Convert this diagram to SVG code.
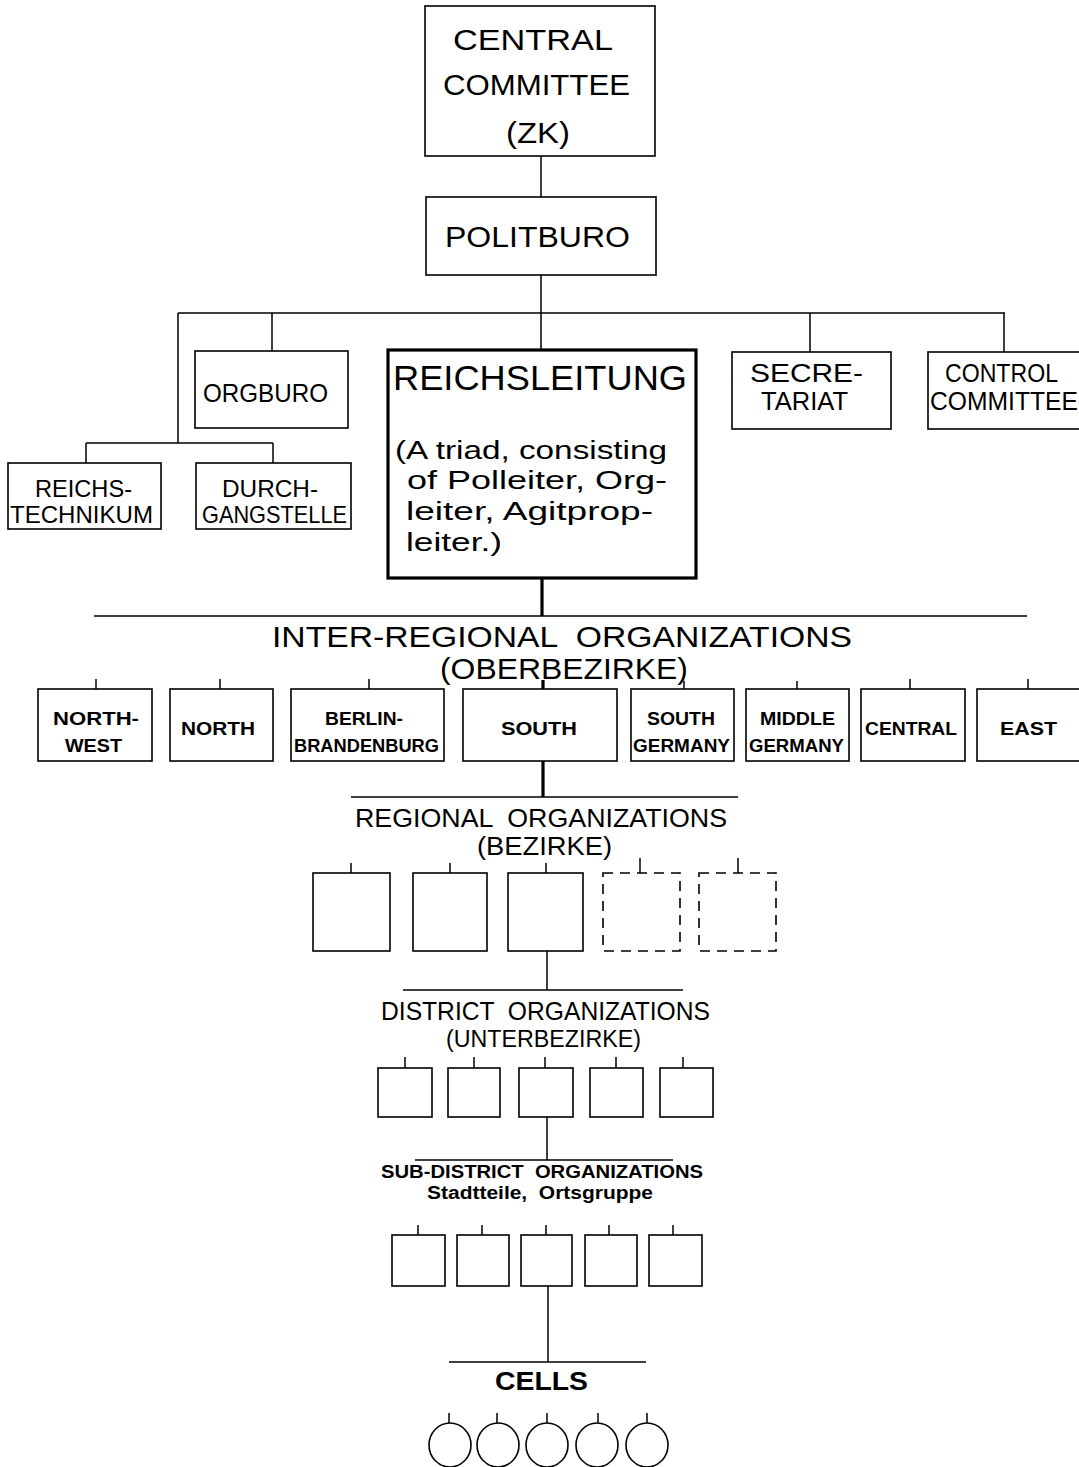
<svg xmlns="http://www.w3.org/2000/svg" width="1079" height="1467" viewBox="0 0 1079 1467">
<style>
  .bg{fill:#fff}
  .box{fill:#fff;stroke:#000;stroke-width:1.6}
  .thick{fill:#fff;stroke:#000;stroke-width:3.2}
  .dash{fill:#fff;stroke:#000;stroke-width:1.6;stroke-dasharray:10 7}
  .ln{fill:none;stroke:#000;stroke-width:1.5}
  .tln{fill:none;stroke:#000;stroke-width:3.2}
  text{font-family:"Liberation Sans","DejaVu Sans",Arial,sans-serif;fill:#000}
  .t29{font-size:29px}
  .t25{font-size:25px}
  .t24{font-size:24px}
  .t23{font-size:23px}
  .t35{font-size:35px}
  .t30{font-size:30px}
  .t26{font-size:26px}
  .b19{font-size:19px;font-weight:bold}
  .b18{font-size:18px;font-weight:bold}
  .b26{font-size:26px;font-weight:bold}
</style>
<rect class="bg" x="0" y="0" width="1079" height="1467"/>

<g id="connectors">
  <line class="ln" x1="541" y1="156" x2="541" y2="197"/>
  <line class="ln" x1="541" y1="275" x2="541" y2="349"/>
  <line class="ln" x1="178" y1="313" x2="1005" y2="313"/>
  <line class="ln" x1="272" y1="313" x2="272" y2="351"/>
  <line class="ln" x1="810" y1="313" x2="810" y2="352"/>
  <line class="ln" x1="1004" y1="313" x2="1004" y2="352"/>
  <line class="ln" x1="178" y1="313" x2="178" y2="443"/>
  <line class="ln" x1="86" y1="443" x2="273" y2="443"/>
  <line class="ln" x1="86" y1="443" x2="86" y2="463"/>
  <line class="ln" x1="273" y1="443" x2="273" y2="463"/>
  <line class="tln" x1="542" y1="578" x2="542" y2="616"/>
  <line class="ln" x1="94" y1="616" x2="1027" y2="616"/>
  <line class="ln" x1="96" y1="679" x2="96" y2="689"/>
  <line class="ln" x1="220" y1="679" x2="220" y2="689"/>
  <line class="ln" x1="369" y1="679" x2="369" y2="689"/>
  <line class="tln" x1="543" y1="680" x2="543" y2="689"/>
  <line class="ln" x1="684" y1="681" x2="684" y2="689"/>
  <line class="ln" x1="797" y1="681" x2="797" y2="689"/>
  <line class="ln" x1="910" y1="679" x2="910" y2="689"/>
  <line class="ln" x1="1028" y1="679" x2="1028" y2="689"/>
  <line class="tln" x1="543" y1="761" x2="543" y2="797"/>
  <line class="ln" x1="351" y1="797" x2="738" y2="797"/>
  <line class="ln" x1="351" y1="863" x2="351" y2="873"/>
  <line class="ln" x1="450" y1="863" x2="450" y2="873"/>
  <line class="ln" x1="546" y1="863" x2="546" y2="873"/>
  <line class="ln" x1="640" y1="858" x2="640" y2="873"/>
  <line class="ln" x1="738" y1="858" x2="738" y2="873"/>
  <line class="ln" x1="547" y1="951" x2="547" y2="990"/>
  <line class="ln" x1="403" y1="990" x2="683" y2="990"/>
  <line class="ln" x1="405" y1="1057" x2="405" y2="1068"/>
  <line class="ln" x1="474" y1="1057" x2="474" y2="1068"/>
  <line class="ln" x1="545" y1="1057" x2="545" y2="1068"/>
  <line class="ln" x1="616" y1="1057" x2="616" y2="1068"/>
  <line class="ln" x1="683" y1="1057" x2="683" y2="1068"/>
  <line class="ln" x1="547" y1="1117" x2="547" y2="1160"/>
  <line class="ln" x1="415" y1="1160" x2="673" y2="1160"/>
  <line class="ln" x1="418" y1="1225" x2="418" y2="1235"/>
  <line class="ln" x1="482" y1="1225" x2="482" y2="1235"/>
  <line class="ln" x1="546" y1="1225" x2="546" y2="1235"/>
  <line class="ln" x1="609" y1="1225" x2="609" y2="1235"/>
  <line class="ln" x1="673" y1="1225" x2="673" y2="1235"/>
  <line class="ln" x1="548" y1="1286" x2="548" y2="1362"/>
  <line class="ln" x1="449" y1="1362" x2="646" y2="1362"/>
  <line class="ln" x1="449" y1="1413" x2="449" y2="1423"/>
  <line class="ln" x1="497" y1="1413" x2="497" y2="1423"/>
  <line class="ln" x1="547" y1="1413" x2="547" y2="1423"/>
  <line class="ln" x1="598" y1="1413" x2="598" y2="1423"/>
  <line class="ln" x1="647" y1="1413" x2="647" y2="1423"/>
</g>

<g id="central-committee">
  <rect class="box" x="425" y="6" width="230" height="150"/>
  <text class="t29" x="453" y="50" textLength="160" lengthAdjust="spacingAndGlyphs">CENTRAL</text>
  <text class="t29" x="443" y="95" textLength="187" lengthAdjust="spacingAndGlyphs">COMMITTEE</text>
  <text class="t29" x="506" y="143" textLength="64" lengthAdjust="spacingAndGlyphs">(ZK)</text>
</g>
<g id="politburo">
  <rect class="box" x="426" y="197" width="230" height="78"/>
  <text class="t29" x="445" y="247" textLength="185" lengthAdjust="spacingAndGlyphs">POLITBURO</text>
</g>
<g id="orgburo">
  <rect class="box" x="195" y="351" width="153" height="77"/>
  <text class="t25" x="203" y="402" textLength="125" lengthAdjust="spacingAndGlyphs">ORGBURO</text>
</g>
<g id="reichsleitung">
  <rect class="thick" x="388" y="350" width="308" height="228"/>
  <text class="t35" x="393" y="390" textLength="294" lengthAdjust="spacingAndGlyphs">REICHSLEITUNG</text>
  <text class="t25" x="395" y="459" textLength="272" lengthAdjust="spacingAndGlyphs">(A triad, consisting</text>
  <text class="t25" x="407" y="489" textLength="260" lengthAdjust="spacingAndGlyphs">of Polleiter, Org-</text>
  <text class="t25" x="406" y="520" textLength="247" lengthAdjust="spacingAndGlyphs">leiter, Agitprop-</text>
  <text class="t25" x="406" y="551" textLength="96" lengthAdjust="spacingAndGlyphs">leiter.)</text>
</g>
<g id="secretariat">
  <rect class="box" x="732" y="352" width="159" height="77"/>
  <text class="t25" x="750" y="382" textLength="113" lengthAdjust="spacingAndGlyphs">SECRE-</text>
  <text class="t25" x="761" y="410" textLength="87" lengthAdjust="spacingAndGlyphs">TARIAT</text>
</g>
<g id="control-committee">
  <rect class="box" x="928" y="352" width="160" height="77"/>
  <text class="t25" x="945" y="382" textLength="113" lengthAdjust="spacingAndGlyphs">CONTROL</text>
  <text class="t25" x="930" y="410" textLength="148" lengthAdjust="spacingAndGlyphs">COMMITTEE</text>
</g>
<g id="reichstechnikum">
  <rect class="box" x="8" y="463" width="153" height="66"/>
  <text class="t24" x="35" y="497" textLength="97" lengthAdjust="spacingAndGlyphs">REICHS-</text>
  <text class="t24" x="10" y="523" textLength="143" lengthAdjust="spacingAndGlyphs">TECHNIKUM</text>
</g>
<g id="durchgangstelle">
  <rect class="box" x="196" y="463" width="155" height="66"/>
  <text class="t24" x="222" y="497" textLength="96" lengthAdjust="spacingAndGlyphs">DURCH-</text>
  <text class="t24" x="202" y="523" textLength="145" lengthAdjust="spacingAndGlyphs">GANGSTELLE</text>
</g>

<g id="inter-regional-header">
  <text class="t30" x="272" y="647" textLength="580" lengthAdjust="spacingAndGlyphs" xml:space="preserve">INTER-REGIONAL  ORGANIZATIONS</text>
  <text class="t30" x="440" y="679" textLength="248" lengthAdjust="spacingAndGlyphs">(OBERBEZIRKE)</text>
</g>
<g id="northwest">
  <rect class="box" x="38" y="689" width="114" height="72"/>
  <text class="b19" x="53" y="725" textLength="86" lengthAdjust="spacingAndGlyphs">NORTH-</text>
  <text class="b19" x="65" y="752" textLength="57" lengthAdjust="spacingAndGlyphs">WEST</text>
</g>
<g id="north">
  <rect class="box" x="170" y="689" width="103" height="72"/>
  <text class="b19" x="181" y="735" textLength="74" lengthAdjust="spacingAndGlyphs">NORTH</text>
</g>
<g id="berlin-brandenburg">
  <rect class="box" x="291" y="689" width="153" height="72"/>
  <text class="b19" x="325" y="725" textLength="78" lengthAdjust="spacingAndGlyphs">BERLIN-</text>
  <text class="b19" x="294" y="752" textLength="145" lengthAdjust="spacingAndGlyphs">BRANDENBURG</text>
</g>
<g id="south">
  <rect class="box" x="463" y="689" width="154" height="72"/>
  <text class="b19" x="501" y="735" textLength="76" lengthAdjust="spacingAndGlyphs">SOUTH</text>
</g>
<g id="south-germany">
  <rect class="box" x="631" y="689" width="103" height="72"/>
  <text class="b19" x="647" y="725" textLength="68" lengthAdjust="spacingAndGlyphs">SOUTH</text>
  <text class="b19" x="633" y="752" textLength="97" lengthAdjust="spacingAndGlyphs">GERMANY</text>
</g>
<g id="middle-germany">
  <rect class="box" x="746" y="689" width="103" height="72"/>
  <text class="b19" x="760" y="725" textLength="75" lengthAdjust="spacingAndGlyphs">MIDDLE</text>
  <text class="b19" x="749" y="752" textLength="95" lengthAdjust="spacingAndGlyphs">GERMANY</text>
</g>
<g id="central">
  <rect class="box" x="861" y="689" width="104" height="72"/>
  <text class="b19" x="865" y="735" textLength="92" lengthAdjust="spacingAndGlyphs">CENTRAL</text>
</g>
<g id="east">
  <rect class="box" x="977" y="689" width="110" height="72"/>
  <text class="b19" x="1000" y="735" textLength="57" lengthAdjust="spacingAndGlyphs">EAST</text>
</g>

<g id="regional-header">
  <text class="t26" x="355" y="827" textLength="372" lengthAdjust="spacingAndGlyphs" xml:space="preserve">REGIONAL  ORGANIZATIONS</text>
  <text class="t26" x="477" y="855" textLength="135" lengthAdjust="spacingAndGlyphs">(BEZIRKE)</text>
</g>
<g id="bezirk-1"><rect class="box" x="313" y="873" width="77" height="78"/></g>
<g id="bezirk-2"><rect class="box" x="413" y="873" width="74" height="78"/></g>
<g id="bezirk-3"><rect class="box" x="508" y="873" width="75" height="78"/></g>
<g id="bezirk-4"><rect class="dash" x="603" y="873" width="77" height="78"/></g>
<g id="bezirk-5"><rect class="dash" x="699" y="873" width="77" height="78"/></g>

<g id="district-header">
  <text class="t25" x="381" y="1020" textLength="329" lengthAdjust="spacingAndGlyphs" xml:space="preserve">DISTRICT  ORGANIZATIONS</text>
  <text class="t23" x="446" y="1047" textLength="195" lengthAdjust="spacingAndGlyphs">(UNTERBEZIRKE)</text>
</g>
<g id="unterbezirk-1"><rect class="box" x="378" y="1068" width="54" height="49"/></g>
<g id="unterbezirk-2"><rect class="box" x="448" y="1068" width="52" height="49"/></g>
<g id="unterbezirk-3"><rect class="box" x="519" y="1068" width="54" height="49"/></g>
<g id="unterbezirk-4"><rect class="box" x="590" y="1068" width="53" height="49"/></g>
<g id="unterbezirk-5"><rect class="box" x="660" y="1068" width="53" height="49"/></g>

<g id="sub-district-header">
  <text class="b19" x="381" y="1178" textLength="322" lengthAdjust="spacingAndGlyphs" xml:space="preserve">SUB-DISTRICT  ORGANIZATIONS</text>
  <text class="b18" x="427" y="1199" textLength="226" lengthAdjust="spacingAndGlyphs" xml:space="preserve">Stadtteile,  Ortsgruppe</text>
</g>
<g id="sub-district-1"><rect class="box" x="392" y="1235" width="53" height="51"/></g>
<g id="sub-district-2"><rect class="box" x="457" y="1235" width="52" height="51"/></g>
<g id="sub-district-3"><rect class="box" x="521" y="1235" width="51" height="51"/></g>
<g id="sub-district-4"><rect class="box" x="585" y="1235" width="52" height="51"/></g>
<g id="sub-district-5"><rect class="box" x="649" y="1235" width="53" height="51"/></g>

<g id="cells-header">
  <text class="b26" x="495" y="1390" textLength="93" lengthAdjust="spacingAndGlyphs">CELLS</text>
</g>
<g id="cell-1"><ellipse class="box" cx="450" cy="1445" rx="21" ry="22"/></g>
<g id="cell-2"><ellipse class="box" cx="498" cy="1445" rx="21" ry="22"/></g>
<g id="cell-3"><ellipse class="box" cx="547" cy="1445" rx="21" ry="22"/></g>
<g id="cell-4"><ellipse class="box" cx="597" cy="1445" rx="21" ry="22"/></g>
<g id="cell-5"><ellipse class="box" cx="647" cy="1445" rx="21" ry="22"/></g>
</svg>
